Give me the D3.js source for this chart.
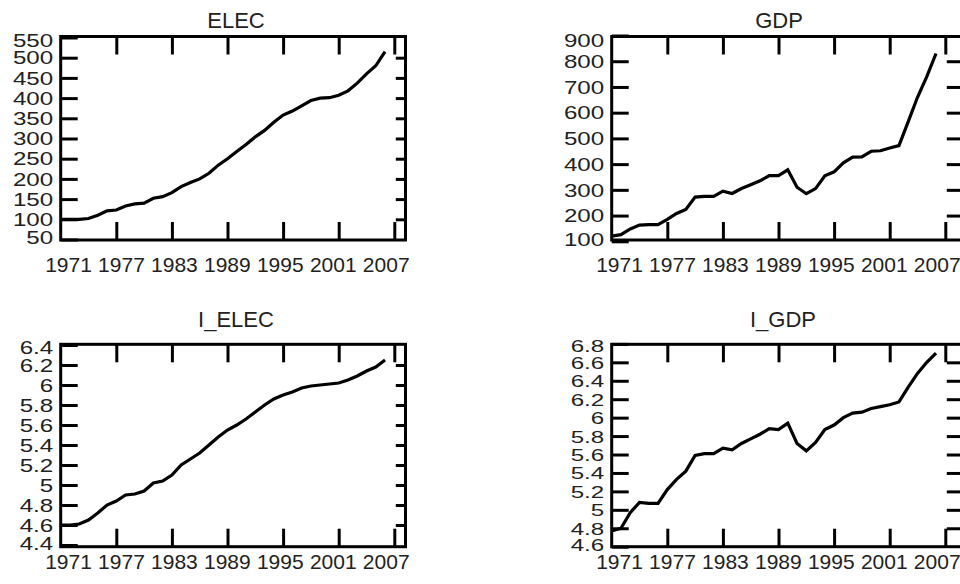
<!DOCTYPE html>
<html>
<head>
<meta charset="utf-8">
<script src="https://cdn.jsdelivr.net/npm/d3@7"></script>
<style>
  html, body { margin: 0; padding: 0; background: #fff; }
  svg { display: block; }
  text { font-family: "Liberation Sans", Arial, sans-serif; fill: #222; }
</style>
</head>
<body>
<svg id="chart" width="960" height="584"></svg>
<script>
// ---- data ----
const years = [1971,1972,1973,1974,1975,1976,1977,1978,1979,1980,
               1981,1982,1983,1984,1985,1986,1987,1988,1989,1990,
               1991,1992,1993,1994,1995,1996,1997,1998,1999,2000,
               2001,2002,2003,2004,2005,2006];
const elec = [100,100,100,102,110,121,123,133,138,140,
              152,156,166,181,191,200,214,234,250,268,
              285,304,320,340,358,368,381,394,400,401,
              407,418,437,460,480,515];
const gdp = [120,126,148,163,165,165,185,208,224,272,
             275,275,295,286,305,320,335,355,355,378,
             310,285,305,355,370,405,427,428,450,452,
             463,472,565,660,740,830];
const lElec = [4.60,4.60,4.61,4.65,4.72,4.80,4.84,4.90,4.91,4.94,
               5.02,5.04,5.10,5.20,5.26,5.32,5.40,5.48,5.55,5.60,
               5.66,5.73,5.80,5.86,5.90,5.93,5.97,5.99,6.00,6.01,
               6.02,6.05,6.09,6.14,6.18,6.25];
const lGdp = [4.77,4.80,4.97,5.08,5.07,5.07,5.22,5.33,5.42,5.59,
              5.61,5.61,5.67,5.65,5.72,5.77,5.82,5.88,5.87,5.94,
              5.72,5.64,5.73,5.87,5.92,6.00,6.05,6.06,6.10,6.12,
              6.14,6.17,6.33,6.48,6.60,6.70];

const xTicks = [1971,1977,1983,1989,1995,2001,2007];
const elecTicks = [50,100,150,200,250,300,350,400,450,500,550];
const gdpTicks = [100,200,300,400,500,600,700,800,900];
const lElecTicks = [4.4,4.6,4.8,5,5.2,5.4,5.6,5.8,6,6.2,6.4];
const lGdpTicks = [4.6,4.8,5,5.2,5.4,5.6,5.8,6,6.2,6.4,6.6,6.8];

const titles = ["ELEC","GDP","I_ELEC","I_GDP"];

// ---- layout ----
const panels = [
  {title: titles[0], values: elec,  ticks: elecTicks,  left: 60.7,  right: 405.5, top: 36.5,  bottom: 240,
   yRange: [239.5, 37.5], titleX: 236, titleY: 28, labPad: 17, fs: 17, topShift: 2.5},
  {title: titles[1], values: gdp,   ticks: gdpTicks,   left: 611.7, right: 963,   top: 36.5,  bottom: 240,
   yRange: [241.3, 35.5], titleX: 779, titleY: 28, labPad: 17, fs: 17, topShift: 5},
  {title: titles[2], values: lElec, ticks: lElecTicks, left: 60.7,  right: 405.5, top: 344.3, bottom: 546.7,
   yRange: [545, 345],    titleX: 236, titleY: 327, labPad: 7, fs: 17, topShift: 2.5},
  {title: titles[3], values: lGdp,  ticks: lGdpTicks,  left: 611.7, right: 963,   top: 344.3, bottom: 546.7,
   yRange: [546.7, 343.9], titleX: 783, titleY: 327, labPad: 7, fs: 15.8, topShift: 2}
];

const svg = d3.select("#chart");

panels.forEach(p => {
  const x = d3.scaleLinear().domain([1971, 2007]).range([p.left, p.left + 333.6]);
  // year labels are spread slightly tighter than the tick marks
  const xl = d3.scaleLinear().domain([1971, 2007]).range([p.left + 7.3, p.left + 325]);
  const y = d3.scaleLinear().domain(d3.extent(p.ticks)).range(p.yRange);
  const g = svg.append("g");

  // frame
  g.append("rect")
    .attr("x", p.left).attr("y", p.top)
    .attr("width", p.right - p.left).attr("height", p.bottom - p.top)
    .attr("fill", "none").attr("stroke", "#000").attr("stroke-width", 3);

  const fmt = d => String(d);
  const n = p.ticks.length;

  // left axis (ticks inside + labels)
  const ay = g.append("g").attr("transform", `translate(${p.left},0)`)
    .call(d3.axisLeft(y).tickValues(p.ticks).tickSizeInner(-17).tickSizeOuter(0)
      .tickPadding(0).tickFormat(fmt));
  ay.select(".domain").remove();
  ay.selectAll(".tick line").attr("stroke", "#000").attr("stroke-width", 3);
  ay.selectAll(".tick text")
    .attr("x", null).attr("dy", null)
    .attr("font-size", p.fs)
    .attr("text-anchor", "end")
    .attr("dominant-baseline", "central")
    .attr("transform", (d, i) => {
      let dy = 0;
      if (i === n - 1) dy = p.topShift;
      if (i === 0) dy = -2;
      const sx = 1.42 * 17 / p.fs;
      return `translate(-7.5,${dy}) scale(${sx},1.03)`;
    })
    .style("fill", "#222");

  // right axis (ticks only)
  const rLen = p.right - (x(2007) + 1.5);
  const ar = g.append("g").attr("transform", `translate(${p.right},0)`)
    .call(d3.axisRight(y).tickValues(p.ticks.slice(1, -1)).tickSizeInner(-rLen).tickSizeOuter(0).tickFormat(""));
  ar.select(".domain").remove();
  ar.selectAll(".tick line").attr("stroke", "#000").attr("stroke-width", 3);

  // top axis (ticks only)
  const at = g.append("g").attr("transform", `translate(0,${p.top})`)
    .call(d3.axisTop(x).tickValues(xTicks.slice(1)).tickSizeInner(-18).tickSizeOuter(0).tickFormat(""));
  at.select(".domain").remove();
  at.selectAll(".tick line").attr("stroke", "#000").attr("stroke-width", 3);

  // bottom axis (ticks + labels)
  const ab = g.append("g").attr("transform", `translate(0,${p.bottom})`)
    .call(d3.axisBottom(x).tickValues(xTicks).tickSizeInner(-18).tickSizeOuter(0)
      .tickPadding(p.labPad).tickFormat(fmt));
  ab.select(".domain").remove();
  ab.selectAll(".tick line").attr("stroke", "#000").attr("stroke-width", 3)
    .attr("opacity", d => d === 1971 ? 0 : 1);
  ab.selectAll(".tick text").attr("x", d => xl(d) - x(d)).attr("font-size", 21).style("fill", "#222");

  // series line
  const line = d3.line().x((d, i) => x(years[i])).y(d => y(d));
  g.append("path").datum(p.values)
    .attr("d", line)
    .attr("fill", "none").attr("stroke", "#000").attr("stroke-width", 3.2)
    .attr("stroke-linejoin", "miter");

  // title
  g.append("text").attr("x", p.titleX).attr("y", p.titleY)
    .attr("text-anchor", "middle").attr("font-size", 22)
    .style("fill", "#222").text(p.title);
});
</script>
</body>
</html>
